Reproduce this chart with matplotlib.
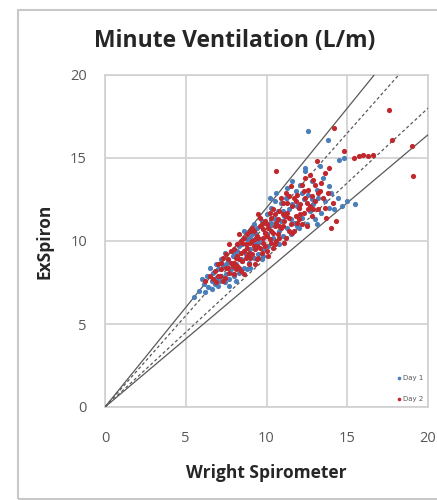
import matplotlib
matplotlib.use("Agg")
import matplotlib.pyplot as plt
from matplotlib.patches import Rectangle
import numpy as np

title = "Minute Ventilation (L/m)"
x_label = "Wright Spirometer"
y_label = "ExSpiron"
ticks = [0, 5, 10, 15, 20]

day1 = [(5.5,6.6),(5.8,7.0),(6.1,7.4),(6.3,7.9),(6.4,7.2),(6.6,7.6),(6.7,8.1),(6.8,7.4),(6.9,7.8),(7.0,8.3),
        (7.1,7.6),(7.2,7.9),(7.3,8.5),(7.4,7.5),(7.5,8.0),(7.6,8.8),(7.7,7.7),(7.8,8.3),(7.9,9.1),(8.0,7.9),
        (8.1,8.6),(8.2,9.4),(8.3,8.1),(8.4,8.9),(8.5,9.8),(8.6,8.4),(8.7,9.2),(8.8,10.1),(8.9,8.7),(9.0,9.5),
        (9.1,10.4),(9.2,9.0),(9.3,9.8),(9.4,10.8),(9.5,9.2),(9.6,10.1),(9.7,11.2),(9.8,9.5),(9.9,10.5),(10.0,11.6),
        (10.1,9.7),(10.2,10.9),(10.3,12.0),(10.4,10.2),(10.5,11.3),(10.6,9.9),(10.7,11.8),(10.8,10.6),(10.9,12.3),(11.0,10.3),
        (11.1,11.5),(11.2,12.6),(11.3,10.8),(11.4,11.9),(11.5,10.4),(11.6,12.2),(11.7,11.1),(11.8,13.0),(11.9,10.9),(12.0,12.0),
        (12.1,13.4),(12.2,11.4),(12.3,12.5),(12.4,14.2),(12.5,11.0),(12.6,12.8),(12.6,16.6),(12.7,11.8),(12.8,13.6),(12.9,12.2),
        (13.0,11.3),(13.1,13.1),(13.2,12.6),(13.4,11.7),(13.5,13.8),(13.6,12.4),(13.8,16.1),(13.9,12.0),(14.0,12.9),(14.2,11.9),
        (14.5,14.9),(14.7,12.1),(14.8,15.0),(15.0,12.4),(15.5,12.2),(6.0,7.7),(6.5,8.4),(7.0,7.3),(7.5,8.6),(8.0,9.3),
        (8.5,8.8),(9.0,10.2),(9.5,9.9),(10.0,10.4),(10.5,12.4),(11.0,11.8),(11.5,11.3),(12.0,10.8),(12.4,14.4),(7.2,8.9),
        (8.3,9.7),(9.2,11.0),(10.2,12.6),(11.3,13.2),(6.2,6.9),(7.7,7.3),(8.8,8.3),(9.8,9.1),(10.8,9.8),
        (6.9,8.6),(7.4,9.3),(7.9,8.0),(8.6,10.6),(9.3,10.5),(9.7,8.9),(10.3,11.1),(10.9,11.2),(11.6,13.6),(12.2,12.9),
        (12.8,12.5),(13.3,14.5),(13.9,13.3),(14.4,12.6),(6.6,7.1),(8.1,7.6),(9.0,8.4),(10.6,12.9),(11.9,12.1),(13.1,11.0)]

day2 = [(6.2,7.6),(6.5,7.9),(6.8,8.2),(6.9,7.5),(7.0,8.6),(7.1,7.9),(7.2,8.3),(7.3,9.0),(7.4,7.8),(7.5,8.4),
        (7.6,8.9),(7.7,8.1),(7.8,9.4),(7.9,8.5),(8.0,8.0),(8.1,9.0),(8.2,9.8),(8.3,8.4),(8.4,9.3),(8.5,8.8),
        (8.6,10.2),(8.7,9.0),(8.8,9.6),(8.9,8.6),(9.0,9.9),(9.1,9.2),(9.2,10.6),(9.3,9.5),(9.4,8.9),(9.5,10.2),
        (9.6,9.6),(9.7,11.0),(9.8,9.9),(9.9,10.5),(10.0,9.4),(10.1,10.8),(10.2,10.1),(10.3,11.4),(10.4,10.5),(10.5,9.8),
        (10.6,11.1),(10.6,14.2),(10.7,10.4),(10.8,11.8),(10.9,10.8),(11.0,12.3),(11.1,11.2),(11.2,10.2),(11.3,11.7),(11.4,12.7),
        (11.5,11.0),(11.6,12.1),(11.7,10.6),(11.8,11.5),(11.9,12.8),(12.0,11.3),(12.1,12.2),(12.2,13.4),(12.3,11.7),(12.4,12.6),
        (12.5,10.9),(12.6,13.1),(12.7,12.1),(12.8,11.5),(12.9,13.7),(13.0,12.4),(13.1,14.8),(13.2,11.9),(13.3,13.0),(13.5,12.6),
        (13.6,14.1),(13.7,11.4),(13.9,14.4),(14.0,10.8),(14.2,16.8),(14.3,11.2),(14.8,15.4),(15.4,15.0),(15.7,15.1),(16.0,15.2),
        (16.3,15.1),(16.6,15.2),(17.6,17.9),(17.8,16.1),(19.0,15.7),(19.1,13.9),(7.0,7.9),(7.5,9.2),(8.0,8.7),(8.2,9.1),
        (8.4,8.2),(8.6,9.4),(8.8,10.4),(9.0,9.0),(9.2,9.7),(9.4,10.3),(9.6,11.4),(9.8,10.7),(10.0,10.3),(10.2,11.7),
        (10.4,9.6),(10.6,10.0),(10.8,10.9),(11.0,11.6),(11.2,12.9),(11.4,11.4),(11.6,10.5),(11.8,12.4),(12.0,12.0),(12.2,11.0),
        (12.4,13.8),(9.1,10.0),(9.3,8.6),(8.5,9.9),(9.7,9.3),(10.9,12.6),(7.8,8.7),(8.1,8.3),(8.9,9.3),(9.9,11.2),
        (10.3,9.9),(11.5,13.3),(12.6,11.9),(13.4,13.5),(7.3,7.6),(7.6,8.4),(8.3,10.4),(9.5,9.0),(10.5,10.9),(11.1,9.9),
        (12.8,12.7),(13.8,12.9),
        (7.7,9.8),(8.0,9.5),(8.3,8.9),(8.6,8.0),(8.8,9.1),(9.1,10.8),(9.3,10.1),(9.5,11.6),(9.8,10.2),(10.1,9.1),
        (10.3,10.6),(10.7,11.3),(11.0,10.9),(11.3,12.3),(11.7,12.6),(12.1,11.6),(12.3,13.0),(12.7,14.0),(13.2,12.9),(13.6,12.0),
        (9.0,10.6),(9.4,9.7),(9.9,9.7),(10.5,11.6),(11.9,11.1),(8.7,9.8),(8.4,10.0),(10.0,11.0),(10.8,10.2),(12.9,11.9),
        (7.2,8.7),(6.7,7.7),(11.4,10.6),(12.5,12.3),(13.0,13.4),(14.1,12.3),(8.2,8.5),(9.6,10.9),(10.4,11.9),(11.2,11.5)]

# reference lines through origin (slope, style)
solid_slopes = [1.2, 0.82]
dashed_slopes = [1.1, 0.9]

fig = plt.figure(figsize=(4.37, 5.00), dpi=100)
ax = fig.add_axes([105/437, 93/500, 323/437, 332/500])

# outer chart frame
fig.patches.append(Rectangle((18/437, 1/500), 1.2, 489/500, transform=fig.transFigure,
                             fill=False, edgecolor="#c8c8c8", linewidth=1.5, clip_on=False))

for s in solid_slopes:
    xe = min(20, 20 / s)
    ax.plot([0, xe], [0, s * xe], color="#595959", lw=0.9, zorder=3)
for s in dashed_slopes:
    xe = min(20, 20 / s)
    ax.plot([0, xe], [0, s * xe], color="#595959", lw=0.9, ls=(0, (2.5, 2)), zorder=3)

d1 = np.array(day1)
d2 = np.array(day2)
ax.scatter(d1[:, 0], d1[:, 1], s=14, color="#4a7ebb", linewidths=0, label="Day 1", zorder=4)
ax.scatter(d2[:, 0], d2[:, 1], s=14, color="#c0282d", linewidths=0, label="Day 2", zorder=4)

ax.set_xlim(0, 20)
ax.set_ylim(0, 20)
ax.set_xticks(ticks)
ax.set_yticks(ticks)
ax.grid(True, color="#d0d0d0", lw=1.2, zorder=0)
ax.set_axisbelow(True)
for sp in ax.spines.values():
    sp.set_color("#d0d0d0")
    sp.set_linewidth(1.2)
ax.tick_params(axis="both", length=0, labelsize=10.5, labelcolor="#595959")
ax.tick_params(axis="x", pad=17)
ax.tick_params(axis="y", pad=13)
for lab in ax.get_xticklabels() + ax.get_yticklabels():
    lab.set_fontfamily("Open Sans")

ax.set_xlabel(x_label, fontsize=12.5, fontweight="bold", family="Open Sans", color="#262626", labelpad=13)
ax.set_ylabel(y_label, fontsize=12.5, fontweight="bold", family="Open Sans", color="#262626", labelpad=12)

fig.text(235/437, 1 - 41/500, title, ha="center", va="center", fontsize=16.5,
         fontweight="bold", family="Open Sans", color="#262626")

leg = ax.legend(loc="lower right", fontsize=5, frameon=False, markerscale=0.7,
                handletextpad=0.1, borderaxespad=0.3, labelspacing=2.2, handlelength=1)
for t in leg.get_texts():
    t.set_color("#595959")

fig.savefig("out.png", dpi=100)
